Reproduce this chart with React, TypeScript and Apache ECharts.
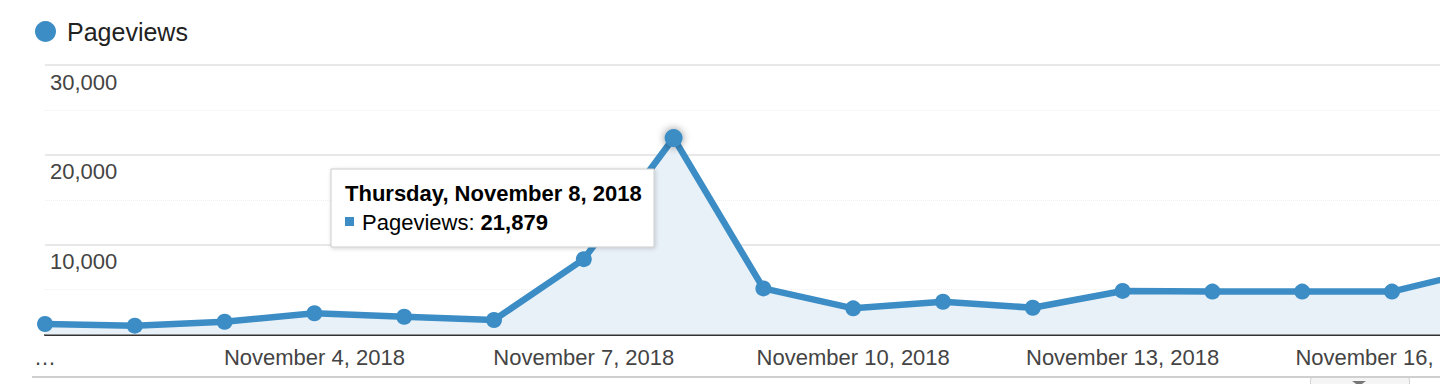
import React, { useEffect, useRef } from "react";
import * as echarts from "echarts";

const dates = [
  "November 1, 2018", "November 2, 2018", "November 3, 2018", "November 4, 2018",
  "November 5, 2018", "November 6, 2018", "November 7, 2018", "November 8, 2018",
  "November 9, 2018", "November 10, 2018", "November 11, 2018", "November 12, 2018",
  "November 13, 2018", "November 14, 2018", "November 15, 2018", "November 16, 2018",
  "November 17, 2018",
];
const pageviews = [1170, 980, 1420, 2360, 1980, 1610, 8390, 21879, 5130, 2910, 3640, 2980, 4850, 4780, 4780, 4780, 7190];
const tickLabels = [
  "…", "", "", "November 4, 2018", "", "", "November 7, 2018", "", "",
  "November 10, 2018", "", "", "November 13, 2018", "", "", "November 16, 2018", "",
];
const seriesName = "Pageviews";
const tooltipTitle = "Thursday, November 8, 2018";
const tooltipIndex = 7;

const BLUE = "#3c8dc5";
const FONT = "Arial, 'Liberation Sans', Helvetica, sans-serif";

export default function App() {
  const ref = useRef<HTMLDivElement>(null);
  useEffect(() => {
    if (!ref.current) return;
    const chart = echarts.init(ref.current, undefined, { renderer: "svg" });
    const data = pageviews.map((v, i) =>
      i === tooltipIndex
        ? {
            value: v,
            symbolSize: 18,
            itemStyle: { color: BLUE, shadowBlur: 8, shadowColor: "rgba(0,0,0,0.45)" },
          }
        : v
    );
    chart.setOption({
      animation: false,
      textStyle: { fontFamily: FONT },
      legend: {
        show: true,
        left: 30,
        top: 14,
        icon: "circle",
        itemWidth: 21,
        itemHeight: 21,
        data: [seriesName],
        textStyle: { fontSize: 25, color: "#222", fontFamily: FONT, padding: [0, 0, 0, 6] },
        selectedMode: false,
      },
      grid: {
        left: 45,
        top: 65,
        height: 269.5,
        width: 1436.8,
        containLabel: false,
        outerBoundsMode: "none",
      },
      xAxis: {
        type: "category",
        data: dates,
        boundaryGap: false,
        axisLine: { show: true, lineStyle: { color: "#333", width: 2 } },
        axisTick: { show: false },
        splitLine: { show: false },
        axisLabel: {
          interval: 0,
          margin: 12,
          fontSize: 22,
          color: "#444",
          fontFamily: FONT,
          hideOverlap: false,
          formatter: (_v: string, i: number) => tickLabels[i],
        },
      },
      yAxis: {
        type: "value",
        min: 0,
        max: 30000,
        interval: 10000,
        axisLine: { show: false },
        axisTick: { show: false },
        splitLine: { show: true, lineStyle: { color: "#e8e8e8", width: 2 } },
        minorTick: { show: false, splitNumber: 2 },
        minorSplitLine: { show: true, lineStyle: { color: "#f0f0f0", width: 1, type: "dotted" } },
        axisLabel: {
          inside: true,
          showMinLabel: false,
          margin: 5,
          fontSize: 22,
          color: "#444",
          fontFamily: FONT,
          verticalAlign: "top",
          padding: [6, 0, 0, 0],
          formatter: (v: number) => v.toLocaleString("en-US"),
        },
      },
      series: [
        {
          name: seriesName,
          type: "line",
          data,
          symbol: "circle",
          symbolSize: 16,
          showSymbol: true,
          lineStyle: { color: BLUE, width: 6.5 },
          itemStyle: { color: BLUE },
          areaStyle: { color: "#e9f1f8", opacity: 1 },
          clip: false,
        },
      ],
      graphic: [
        {
          type: "line",
          z: 50,
          shape: { x1: 32, y1: 377, x2: 1440, y2: 377 },
          style: { stroke: "#cfcfcf", lineWidth: 2 },
        },
        {
          type: "rect",
          z: 51,
          shape: { x: 1310.5, y: 377.5, width: 99, height: 14, r: 2 },
          style: { fill: "#f5f5f5", stroke: "#d0d0d0", lineWidth: 1 },
        },
        {
          type: "polygon",
          z: 52,
          shape: { points: [[1352, 381], [1366, 381], [1359, 386]] },
          style: { fill: "#777" },
        },
        {
          type: "rect",
          z: 100,
          shape: { x: 331, y: 169, width: 323, height: 78 },
          style: {
            fill: "#fff",
            stroke: "#cccccc",
            lineWidth: 1,
            shadowBlur: 4,
            shadowColor: "rgba(0,0,0,0.18)",
            shadowOffsetX: 1,
            shadowOffsetY: 1,
          },
        },
        {
          type: "text",
          z: 101,
          x: 345,
          y: 193,
          style: {
            text: tooltipTitle,
            font: `bold 22px ${FONT}`,
            fill: "#000",
            verticalAlign: "middle",
          },
        },
        {
          type: "rect",
          z: 101,
          shape: { x: 345, y: 217, width: 9, height: 9 },
          style: { fill: BLUE },
        },
        {
          type: "text",
          z: 101,
          x: 362,
          y: 222,
          style: {
            text: `{n|${seriesName}: }{b|${pageviews[tooltipIndex].toLocaleString("en-US")}}`,
            verticalAlign: "middle",
            rich: {
              n: { fontSize: 22, fontFamily: FONT, color: "#000" },
              b: { fontSize: 22, fontFamily: FONT, fontWeight: "bold", color: "#000" },
            },
          },
        },
      ],
    });
    return () => chart.dispose();
  }, []);
  return (
    <div
      ref={ref}
      style={{ position: "fixed", left: 0, top: 0, width: 1440, height: 384, background: "#fff" }}
    />
  );
}
